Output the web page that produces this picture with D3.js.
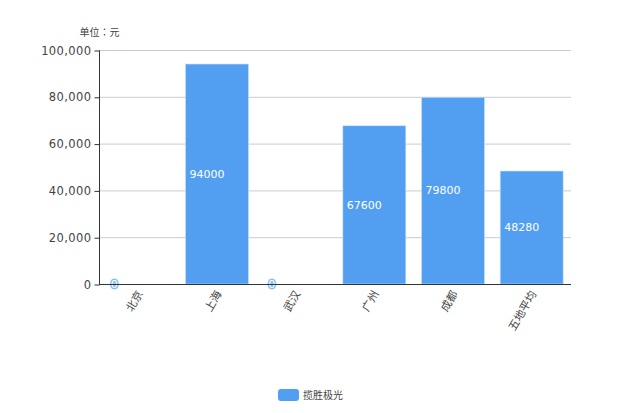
<!DOCTYPE html>
<html>
<head>
<meta charset="utf-8">
<script src="https://cdn.jsdelivr.net/npm/d3@7"></script>
<style>
  html, body { margin: 0; padding: 0; background: #fff; }
  text { font-family: "DejaVu Sans", "Noto Sans CJK SC", sans-serif; }
</style>
</head>
<body>
<div id="chart"></div>
<script>
// chart data
var cities = ['北京', '上海', '武汉', '广州', '成都', '五地平均']
var prices = [0, 94000, 0, 67600, 79800, 48280]
var yTicks = [0, 20000, 40000, 60000, 80000, 100000]
var seriesName = '揽胜极光'
var unitLabel = '单位：元'

var width = 620
var height = 413
var margin = { top: 50, right: 49, bottom: 129, left: 99 }
var barColor = '#529ff2'
var textColor = '#444'

var svg = d3.select('#chart').append('svg')
  .attr('width', width)
  .attr('height', height)
  .style('display', 'block')

var x = d3.scaleBand()
  .range([margin.left, width - margin.right])
  .domain(cities)
  .paddingInner(0.2)
  .paddingOuter(0.1)

var y = d3.scaleLinear()
  .range([height - margin.bottom, margin.top])
  .domain([0, 100000])

// grid lines
svg.append('g').selectAll('line')
  .data(yTicks.slice(1))
  .enter().append('line')
  .attr('x1', margin.left)
  .attr('x2', width - margin.right)
  .attr('y1', d => y(d) + 0.5)
  .attr('y2', d => y(d) + 0.5)
  .attr('stroke', '#ccc')

// bars
svg.append('g').selectAll('rect')
  .data(prices)
  .enter().append('rect')
  .attr('x', (d, i) => x(cities[i]))
  .attr('y', d => y(d))
  .attr('width', x.bandwidth())
  .attr('height', d => y(0) - y(d))
  .attr('fill', barColor)
  .attr('stroke', d => d > 0 ? '#c4dffb' : 'none')
  .attr('stroke-width', 0.6)

// value labels, white with a blue halo
svg.append('g').selectAll('text')
  .data(prices)
  .enter().append('text')
  .attr('x', (d, i) => x(cities[i]) + 4)
  .attr('y', d => (y(0) + y(d)) / 2)
  .attr('dy', '0.35em')
  .attr('font-size', 11)
  .attr('fill', '#fff')
  .attr('stroke', barColor)
  .attr('stroke-opacity', 0.7)
  .attr('stroke-width', 3)
  .attr('paint-order', 'stroke')
  .text(d => d)

// y axis
var yAxis = svg.append('g')
  .attr('transform', 'translate(' + (margin.left + 0.5) + ',0.5)')
  .call(d3.axisLeft(y).tickValues(yTicks).tickSize(5).tickPadding(3).tickFormat(d3.format(',')))
yAxis.selectAll('text').attr('font-size', 11.5).attr('letter-spacing', 0.4).attr('fill', textColor)
yAxis.selectAll('line, path').attr('stroke', '#333')
yAxis.select('.domain').attr('d', 'M0,' + y(100000) + 'V' + y(0))

// x axis
var xAxis = svg.append('g')
  .attr('transform', 'translate(0,' + (y(0) + 0.5) + ')')
  .call(d3.axisBottom(x).tickSize(0).tickPadding(0))
xAxis.select('.domain').attr('stroke', '#333').attr('d', 'M' + margin.left + ',0H' + (width - margin.right))
xAxis.selectAll('text')
  .attr('font-size', 11)
  .attr('fill', textColor)
  .attr('text-anchor', 'end')
  .attr('y', 0)
  .attr('dy', 0)
  .attr('transform', 'translate(5,9) rotate(-60)')

// unit label
svg.append('text')
  .attr('x', 99.5)
  .attr('y', 36)
  .attr('text-anchor', 'middle')
  .attr('font-size', 10)
  .attr('fill', textColor)
  .style('font-family', '"Noto Sans CJK TC", sans-serif')
  .text(unitLabel)

// legend
svg.append('rect')
  .attr('x', 278)
  .attr('y', 389)
  .attr('width', 21)
  .attr('height', 12)
  .attr('rx', 3)
  .attr('fill', barColor)
svg.append('text')
  .attr('x', 303)
  .attr('y', 399)
  .attr('font-size', 10)
  .attr('fill', textColor)
  .text(seriesName)
</script>
</body>
</html>
